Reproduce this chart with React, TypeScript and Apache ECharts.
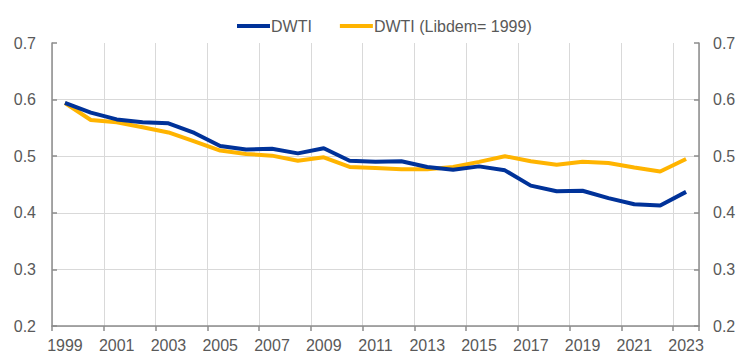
import React, { useEffect, useRef } from "react";
import * as echarts from "echarts";

const years: string[] = [
  "1999", "2000", "2001", "2002", "2003", "2004", "2005", "2006", "2007", "2008",
  "2009", "2010", "2011", "2012", "2013", "2014", "2015", "2016", "2017", "2018",
  "2019", "2020", "2021", "2022", "2023",
];

const dwti: number[] = [
  0.594, 0.577, 0.565, 0.56, 0.558, 0.541, 0.518, 0.512, 0.513, 0.505,
  0.514, 0.492, 0.49, 0.491, 0.481, 0.476, 0.482, 0.475, 0.448, 0.438,
  0.439, 0.426, 0.415, 0.413, 0.437,
];

const dwtiLibdem: number[] = [
  0.594, 0.564, 0.56, 0.551, 0.542, 0.526, 0.51, 0.504, 0.501, 0.492,
  0.498, 0.481, 0.479, 0.477, 0.477, 0.481, 0.49, 0.5, 0.491, 0.485,
  0.49, 0.488, 0.48, 0.473, 0.495,
];

const seriesNames: string[] = ["DWTI", "DWTI (Libdem= 1999)"];
const colors: string[] = ["#003299", "#FFB400"];

export default function App() {
  const ref = useRef<HTMLDivElement | null>(null);

  useEffect(() => {
    if (!ref.current) return;
    const chart = echarts.init(ref.current, undefined, { renderer: "svg" });
    const font = "'Liberation Sans', Arial, sans-serif";
    const labelColor = "#595959";
    const axisColor = "#8c8c8c";
    const gridColor = "#d9d9d9";
    const yAxisBase = {
      type: "value",
      min: 0.2,
      max: 0.7,
      interval: 0.1,
      axisLine: { show: true, lineStyle: { color: axisColor, width: 1.5 } },
      axisTick: { show: true, inside: true, length: 5, lineStyle: { color: axisColor, width: 1.5 } },
    };
    chart.setOption({
      animation: false,
      color: colors,
      legend: {
        top: 13,
        left: 232,
        icon: "rect",
        itemWidth: 33,
        itemHeight: 4,
        itemGap: 28,
        textStyle: { color: labelColor, fontSize: 16, fontFamily: font, padding: [0, 0, 0, -4] },
        data: seriesNames,
      },
      grid: { left: 52, right: 57, top: 43, bottom: 31, containLabel: false },
      xAxis: {
        type: "category",
        data: years,
        boundaryGap: true,
        axisLine: { lineStyle: { color: axisColor, width: 1.5 } },
        axisTick: { show: true, interval: 1, length: 5, lineStyle: { color: axisColor, width: 1.5 } },
        axisLabel: { interval: 1, color: labelColor, fontSize: 16, fontFamily: font, margin: 11 },
        splitLine: { show: true, interval: 1, lineStyle: { color: gridColor, width: 1 } },
      },
      yAxis: [
        {
          ...yAxisBase,
          position: "left",
          axisLabel: {
            color: labelColor,
            fontSize: 16,
            fontFamily: font,
            margin: 16,
            formatter: (v: number) => v.toFixed(1),
          },
          splitLine: {
            show: true,
            lineStyle: {
              color: [gridColor, gridColor, gridColor, gridColor, gridColor, "rgba(0,0,0,0)"],
              width: 1,
            },
          },
        },
        {
          ...yAxisBase,
          position: "right",
          axisLabel: {
            color: labelColor,
            fontSize: 16,
            fontFamily: font,
            margin: 14,
            formatter: (v: number) => v.toFixed(1),
          },
          splitLine: { show: false },
        },
      ],
      series: [
        {
          name: seriesNames[0],
          type: "line",
          data: dwti,
          yAxisIndex: 0,
          showSymbol: false,
          symbol: "none",
          lineStyle: { width: 4, color: colors[0] },
          z: 3,
        },
        {
          name: seriesNames[1],
          type: "line",
          data: dwtiLibdem,
          yAxisIndex: 0,
          showSymbol: false,
          symbol: "none",
          lineStyle: { width: 4, color: colors[1] },
          z: 2,
        },
      ],
    });
    return () => chart.dispose();
  }, []);

  return (
    <div
      ref={ref}
      style={{ position: "fixed", left: 0, top: 0, width: 756, height: 357, background: "#fff" }}
    />
  );
}
